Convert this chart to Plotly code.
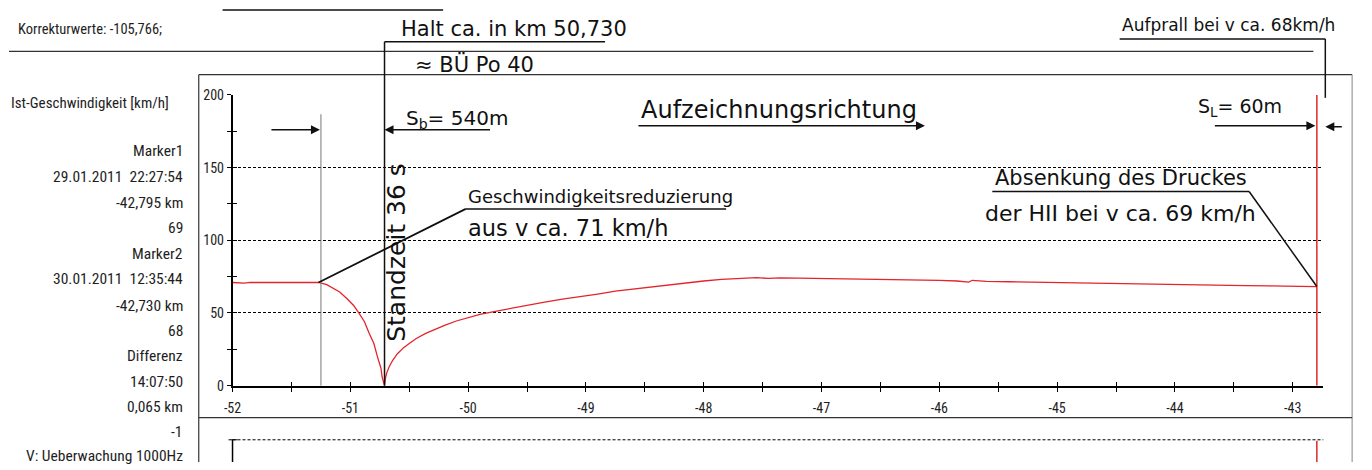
import plotly.graph_objects as go

W, H = 1372, 470


def px(x):
    return x / W


def py(y):
    return 1 - y / H


# ---------------- data ----------------
km = [-52.00, -51.90, -51.85, -51.70, -51.55, -51.40, -51.27,
      -51.20, -51.15, -51.09, -51.03, -50.97, -50.92, -50.88, -50.84, -50.80, -50.77, -50.74, -50.73, -50.71,
      -50.70, -50.69, -50.67, -50.64, -50.60, -50.55, -50.50, -50.44, -50.36, -50.28, -50.20, -50.10,
      -50.00, -49.90, -49.78, -49.65, -49.50, -49.35, -49.20, -49.05, -48.90, -48.75, -48.60, -48.45,
      -48.30, -48.15, -48.00, -47.85, -47.70, -47.55, -47.45, -47.35, -47.20, -47.00, -46.80, -46.60,
      -46.40, -46.20, -46.00, -45.85, -45.75, -45.72, -45.60, -45.40, -45.20, -45.00, -44.80, -44.60,
      -44.40, -44.20, -44.00, -43.80, -43.60, -43.40, -43.20, -43.00, -42.80]
speed = [71.0, 70.6, 71.0, 70.8, 71.0, 71.0, 71.0,
         69.5, 67.0, 64.5, 60.0, 55.0, 49.0, 44.0, 36.0, 29.0, 20.0, 12.0, 6.0, 0.0,
         6.0, 9.0, 13.0, 17.5, 22.0, 26.0, 29.0, 32.5, 36.0, 39.0, 41.5, 44.5,
         47.0, 49.0, 51.0, 53.0, 55.5, 57.5, 59.5, 61.0, 63.0, 65.0, 66.5, 68.0,
         69.5, 71.0, 72.0, 73.2, 74.0, 74.3, 73.8, 74.2, 74.0, 73.8, 73.5, 73.2,
         73.0, 72.6, 72.4, 72.0, 71.2, 72.5, 71.8, 71.5, 71.2, 70.8, 70.5, 70.2,
         69.9, 69.6, 69.4, 69.2, 69.0, 68.8, 68.6, 68.4, 68.2]

x_ticks = [-52, -51, -50, -49, -48, -47, -46, -45, -44, -43]
x_tick_labels = [str(v) for v in x_ticks]
y_ticks = [0, 50, 100, 150, 200]
x_range = [-52, -42.74]
y_range = [0, 200]

marker1_km = -42.795
marker2_km = -42.730
brake_start_km = -51.27
brake_start_speed = 71.0
end_speed = 68.2

info_labels = ["Marker1", "29.01.2011\u00a0\u00a022:27:54", "-42,795 km", "69",
               "Marker2", "30.01.2011\u00a0\u00a012:35:44", "-42,730 km", "68",
               "Differenz", "14:07:50", "0,065 km", "-1"]
info_y = [148, 175, 202, 228, 255, 281, 308, 334, 360, 387, 413, 439]

NARROW = "Roboto Condensed, DejaVu Sans Condensed, Liberation Sans, sans-serif"
HAND = "DejaVu Sans, sans-serif"
INK = "#111111"
RED = "#e3242b"
PRINT = "#1e1e1e"

X_DOM = [px(225), px(1323)]
Y_DOM = [py(391), py(90)]

fig = go.Figure()
fig.add_trace(go.Scatter(x=km, y=speed, mode="lines", line=dict(color=RED, width=1.3),
                         hoverinfo="skip", showlegend=False))
# empty trace for the overlay axes (inside half of crossing ticks)
fig.add_trace(go.Scatter(x=[], y=[], xaxis="x3", yaxis="y3", showlegend=False, hoverinfo="skip"))

tickfont = dict(family=NARROW, size=14, color=PRINT)

fig.update_layout(
    width=W, height=H, autosize=False,
    margin=dict(l=0, r=0, t=0, b=0),
    paper_bgcolor="white", plot_bgcolor="white",
    showlegend=False,
    xaxis=dict(domain=X_DOM, range=x_range, anchor="y", showline=True, linecolor="black", linewidth=2,
               ticks="outside", ticklen=4, tickcolor="black", tickwidth=1,
               tickmode="array", tickvals=x_ticks, ticktext=x_tick_labels,
               minor=dict(tick0=-52, dtick=0.5, ticks="outside", ticklen=4, tickcolor="black", showgrid=False),
               showgrid=False, zeroline=False, tickfont=tickfont, ticklabelstandoff=5),
    yaxis=dict(domain=Y_DOM, range=y_range, anchor="x", showline=True, linecolor="black", linewidth=1.5,
               ticks="outside", ticklen=4, tickcolor="black", tickwidth=1,
               tickmode="array", tickvals=y_ticks,
               minor=dict(tick0=0, dtick=25, ticks="outside", ticklen=4, tickcolor="black", showgrid=False),
               showgrid=True, gridcolor="black", griddash="3px,2px", gridwidth=1,
               zeroline=False, tickfont=tickfont, ticklabelstandoff=0),
    xaxis3=dict(domain=X_DOM, range=x_range, overlaying="x", anchor="y", showline=False,
                ticks="inside", ticklen=4, tickcolor="black", tickmode="array", tickvals=x_ticks,
                minor=dict(tick0=-52, dtick=0.5, ticks="inside", ticklen=4, tickcolor="black", showgrid=False),
                showticklabels=False, showgrid=False, zeroline=False),
    yaxis3=dict(domain=Y_DOM, range=y_range, overlaying="y", anchor="x", showline=False,
                ticks="inside", ticklen=4, tickcolor="black", tickmode="array", tickvals=y_ticks,
                minor=dict(tick0=0, dtick=25, ticks="inside", ticklen=4, tickcolor="black", showgrid=False),
                showticklabels=False, showgrid=False, zeroline=False),
)

shapes = []


def pline(x0, y0, x1, y1, color=INK, width=1.5, dash="solid"):
    shapes.append(dict(type="line", xref="paper", yref="paper", x0=px(x0), y0=py(y0), x1=px(x1), y1=py(y1),
                       line=dict(color=color, width=width, dash=dash), layer="above"))


# printed frame
pline(0, 45, 1313, 45, color="#333", width=1.2)
pline(191, 69, 1352, 69, color="#333", width=1.2)
pline(191, 69, 191, 470, color="#333", width=1.2)
pline(1352, 69, 1352, 470, color="#999", width=1.2)
pline(191, 424, 1352, 424, color="#333", width=1.2)

# lower panel
shapes.append(dict(type="line", xref="x domain", yref="paper", x0=0, x1=1, y0=py(447), y1=py(447),
                   line=dict(color="black", width=1, dash="3px,2px")))
shapes.append(dict(type="line", xref="x domain", yref="paper", x0=0, x1=0, y0=py(447), y1=0,
                   line=dict(color="black", width=1.5)))
pline(221, 447, 230, 447, color="black", width=1)
for mk, col, dsh in [(marker1_km, RED, "solid"), (marker2_km, "black", "4px,3px")]:
    shapes.append(dict(type="line", xref="x", yref="paper", x0=mk, x1=mk, y0=py(448), y1=0,
                       line=dict(color=col, width=1.5 if col == RED else 1, dash=dsh)))
    shapes.append(dict(type="line", xref="x", yref="y", x0=mk, x1=mk, y0=y_range[0], y1=y_range[1],
                       line=dict(color=col, width=1.5 if col == RED else 1, dash=dsh)))

# handwritten lines
pline(215, 2, 437, 2)
pline(378, 35, 600, 35)
pline(378, 35, 378, 391)
pline(314, 110, 314, 391, color="#777", width=1)
pline(1118, 32, 1325, 32)
pline(1325, 32, 1325, 93)
# diagonal leaders in data space
shapes.append(dict(type="line", xref="x", yref="y", x0=brake_start_km, y0=brake_start_speed, x1=-50.02, y1=121.6,
                   line=dict(color=INK, width=1.8)))
shapes.append(dict(type="line", xref="x", yref="y", x0=-50.02, y0=121.6, x1=-47.81, y1=121.6,
                   line=dict(color=INK, width=1.5)))
shapes.append(dict(type="line", xref="x", yref="y", x0=-45.55, y0=133.6, x1=-43.37, y1=133.6,
                   line=dict(color=INK, width=1.5)))
shapes.append(dict(type="line", xref="x", yref="y", x0=-43.37, y0=133.6, x1=marker1_km, y1=end_speed,
                   line=dict(color=INK, width=1.5)))
fig.update_layout(shapes=shapes)

ann = []


def text(x, y, s, size, anchor="left", family=HAND, color=INK, angle=0, weight=400):
    ann.append(dict(x=px(x), y=py(y), xref="paper", yref="paper", text=s, showarrow=False,
                    xanchor=anchor, yanchor="middle", textangle=angle,
                    font=dict(family=family, size=size, color=color, weight=weight)))


def arrow(hx, hy, tx, ty):
    ann.append(dict(x=px(hx), y=py(hy), xref="paper", yref="paper", text="", showarrow=True,
                    ax=tx - hx, ay=ty - hy, axref="pixel", ayref="pixel",
                    arrowhead=2, arrowsize=1.2, arrowwidth=1.5, arrowcolor=INK, standoff=0, startstandoff=0))


# printed text
text(7, 22, "Korrekturwerte: -105,766;", 14.5, family=NARROW, color=PRINT)
text(163, 98, "Ist-Geschwindigkeit [km/h]", 15, anchor="right", family=NARROW, color=PRINT)
for lab, yy in zip(info_labels, info_y):
    text(177, yy, lab, 15.5, anchor="right", family=NARROW, color=PRINT)
text(177, 464, "V: Ueberwachung 1000Hz", 15.5, anchor="right", family=NARROW, color=PRINT)

# handwriting
HW = 400
text(393, 22, "Halt ca. in km 50,730", 21, weight=HW)
text(407, 58, "≈ BÜ Po 40", 21, weight=HW)
text(398, 115, "S<sub>b</sub>= 540m", 20, weight=HW)
text(634, 106, "Aufzeichnungsrichtung", 24, weight=HW)
text(1195, 103, "S<sub>L</sub>= 60m", 19, weight=HW)
text(460, 195, "Geschwindigkeitsreduzierung", 18, weight=HW)
text(460, 228, "aus v ca. 71 km/h", 22.5, weight=HW)
text(990, 176, "Absenkung des Druckes", 21, weight=HW)
text(980, 213, "der HII bei v ca. 69 km/h", 22, weight=HW)
text(1118, 18, "Aufprall bei v ca. 68km/h", 17, weight=HW)
text(390, 253, "Standzeit 36 s", 25, anchor="center", angle=-90, weight=HW)

arrow(313, 126, 263, 126)
arrow(378, 126, 485, 126)
arrow(922, 122, 634, 122)
arrow(1315, 122, 1213, 122)
arrow(1325, 123, 1343, 123)

fig.update_layout(annotations=ann)

fig.write_html("out.html", config={"displayModeBar": False},
               post_script="document.body.style.margin='0';document.body.style.overflow='hidden';")
